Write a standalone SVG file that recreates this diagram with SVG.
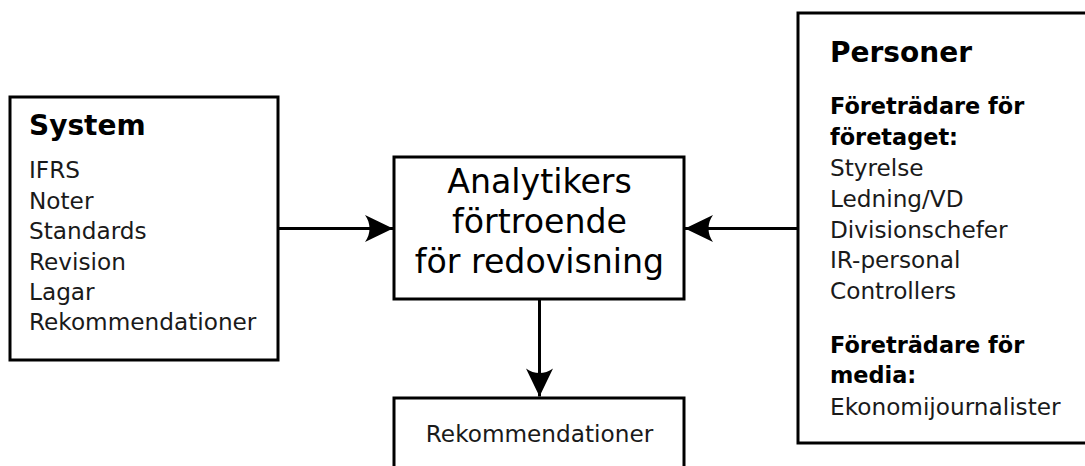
<svg xmlns="http://www.w3.org/2000/svg" width="1085" height="466" viewBox="0 0 1085 466">
<style>
.box{fill:#fff;stroke:#000;stroke-width:3}
.t{font-family:"DejaVu Sans",Verdana,sans-serif;fill:#000}
.title{font-size:28px;font-weight:bold}
.item{font-size:23.2px;fill:#1a1a1a}
.bold{font-size:22.4px;font-weight:bold}
.center{font-size:33.2px;text-anchor:middle}
.conn{fill:none;stroke:#000;stroke-width:3}
</style>
<defs>
<marker id="ah" markerUnits="userSpaceOnUse" markerWidth="30" markerHeight="30" viewBox="-30 -15 30 30" refX="0" refY="0" orient="auto">
<path d="M0,0 L-28,-13.5 C-22,-5 -22,5 -28,13.5 Z" fill="#000"/>
</marker>
</defs>
<rect width="1085" height="466" fill="#fff"/>
<g id="connectors">
<path class="conn" d="M278,228.5 H393" marker-end="url(#ah)"/>
<path class="conn" d="M798,228.5 H685" marker-end="url(#ah)"/>
<path class="conn" d="M539.5,299 V396.5" marker-end="url(#ah)"/>
</g>
<g id="system">
<rect class="box" x="10" y="97" width="268" height="263"/>
<text class="t title" x="29" y="135">System</text>
<text class="t item" x="29" y="178">IFRS</text>
<text class="t item" x="29" y="209">Noter</text>
<text class="t item" x="29" y="239">Standards</text>
<text class="t item" x="29" y="270">Revision</text>
<text class="t item" x="29" y="300">Lagar</text>
<text class="t item" x="29" y="330">Rekommendationer</text>
</g>
<g id="analytiker">
<rect class="box" x="394" y="157" width="290" height="142"/>
<text class="t center" x="539.5" y="193">Analytikers</text>
<text class="t center" x="539.5" y="233">förtroende</text>
<text class="t center" x="539.5" y="273">för redovisning</text>
</g>
<g id="rekommendationer">
<rect class="box" x="394" y="398" width="290" height="90"/>
<text class="t item" x="539.5" y="441.5" text-anchor="middle">Rekommendationer</text>
</g>
<g id="personer">
<rect class="box" x="798" y="13" width="310" height="430"/>
<text class="t title" x="830" y="61.5">Personer</text>
<text class="t bold" x="830" y="114">Företrädare för</text>
<text class="t bold" x="830" y="145">företaget:</text>
<text class="t item" x="830" y="176">Styrelse</text>
<text class="t item" x="830" y="206.5">Ledning/VD</text>
<text class="t item" x="830" y="237.5">Divisionschefer</text>
<text class="t item" x="830" y="268">IR-personal</text>
<text class="t item" x="830" y="299">Controllers</text>
<text class="t bold" x="830" y="352.5">Företrädare för</text>
<text class="t bold" x="830" y="383">media:</text>
<text class="t item" x="830" y="415">Ekonomijournalister</text>
</g>
</svg>
